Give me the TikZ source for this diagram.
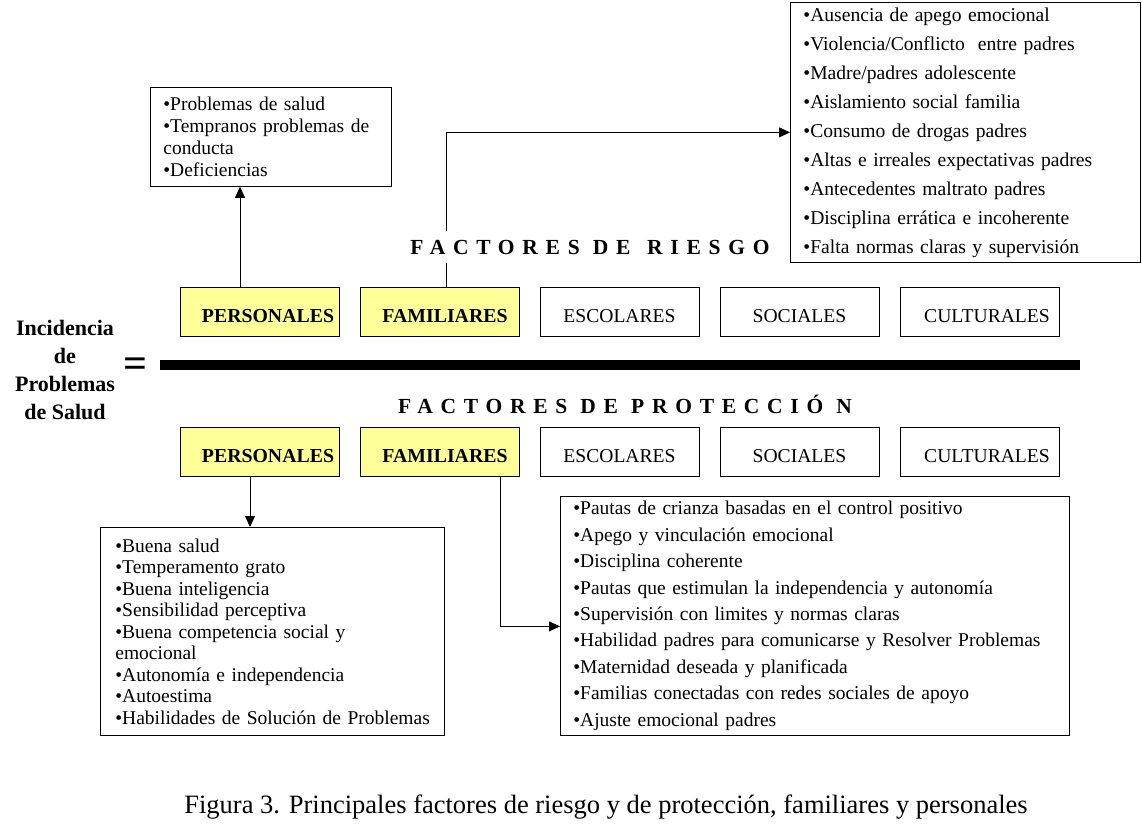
\documentclass[tikz,border=0pt]{standalone}
\usepackage{fontspec}
\setmainfont{Liberation Serif}
\newfontfamily\spacedfont[LetterSpace=36]{Liberation Serif}
\usetikzlibrary{arrows.meta,positioning}
\definecolor{paleyellow}{HTML}{FFFF99}

\begin{document}
\begin{tikzpicture}[x=1pt, y=-1pt, >={Triangle[length=11pt,width=10pt]},
  catbox/.style={draw, line width=0.8pt, minimum width=159pt, minimum height=49pt,
    inner sep=0pt, text height=21pt, text depth=0pt, font=\fontsize{19.6}{22}\selectfont},
  catyellow/.style={catbox, fill=paleyellow, font=\fontsize{19.8}{22}\selectfont\bfseries},
  listbox/.style={draw, line width=0.8pt, anchor=north west, align=left, inner ysep=0pt},
  title/.style={fill=white, inner xsep=4pt, inner ysep=9pt,
    font=\fontsize{21.5}{24}\selectfont\spacedfont\bfseries},
  link/.style={->, line width=0.8pt}]
  \useasboundingbox (0,0) rectangle (1142,832);

  % left side of the equation
  \node[align=center, font=\fontsize{22}{28}\selectfont\bfseries] (incid) at (65,370)
    {Incidencia\\de\\Problemas\\de Salud};
  \node[font=\fontsize{42}{42}\selectfont\bfseries] (eq) at (135,368) {=};
  \coordinate (barL) at (160,365);
  \coordinate (barR) at (1080,365);
  \draw[line width=10pt] (barL) -- (barR);

  % risk factors (above the bar)
  \node[catyellow] (perR) at (259.5,311.5) {\hspace*{17pt}PERSONALES};
  \node[catyellow] (famR) at (439.5,311.5) {\hspace*{11pt}FAMILIARES};
  \node[catbox] (escR) at (619.5,311.5) {ESCOLARES};
  \node[catbox] (socR) at (799.5,311.5) {SOCIALES};
  \node[catbox] (culR) at (979.5,311.5) {\hspace*{15pt}CULTURALES};

  \node[listbox, text width=215pt, inner xsep=13pt, minimum height=99pt,
    font=\fontsize{19.5}{22}\selectfont] (persRlist) at (150,87)
    {•Problemas de salud\\•Tempranos problemas de\\conducta\\•Deficiencias};
  \node[listbox, text width=324pt, inner xsep=13pt, minimum height=260pt,
    font=\fontsize{19.6}{29}\selectfont] (famRlist) at (790,2)
    {•Ausencia de apego emocional\\
     •Violencia/Conflicto\ \ entre padres\\
     •Madre/padres adolescente\\
     •Aislamiento social familia\\
     •Consumo de drogas padres\\
     •Altas e irreales expectativas padres\\
     •Antecedentes maltrato padres\\
     •Disciplina errática e incoherente\\
     •Falta normas claras y supervisión};

  \draw[link] ([xshift=-19.5pt]perR.north) -- ([xshift=-19.5pt]perR.north |- persRlist.south);
  \draw[link] ([xshift=6.5pt]famR.north) |- (famRlist.west);
  \node[title] (riskT) at (590,247) {FACTORES DE\, RIESGO};

  % protective factors (below the bar)
  \node[title] (protT) at (625,404) {FACTORES DE PROTECCIÓ N};
  \node[catyellow] (perP) at (259.5,451.5) {\hspace*{17pt}PERSONALES};
  \node[catyellow] (famP) at (439.5,451.5) {\hspace*{11pt}FAMILIARES};
  \node[catbox] (escP) at (619.5,451.5) {ESCOLARES};
  \node[catbox] (socP) at (799.5,451.5) {SOCIALES};
  \node[catbox] (culP) at (979.5,451.5) {\hspace*{15pt}CULTURALES};

  \node[listbox, text width=314pt, inner xsep=15pt, minimum height=208pt,
    font=\fontsize{19.5}{21.5}\selectfont] (persPlist) at (100,527)
    {•Buena salud\\
     •Temperamento grato\\
     •Buena inteligencia\\
     •Sensibilidad perceptiva\\
     •Buena competencia social y\\emocional\\
     •Autonomía e independencia\\
     •Autoestima\\
     \mbox{•Habilidades de Solución de Problemas}};
  \node[listbox, text width=483pt, inner xsep=13pt, minimum height=239pt,
    font=\fontsize{19.5}{26.4}\selectfont] (famPlist) at (560,496)
    {•Pautas de crianza basadas en el control positivo\\
     •Apego y vinculación emocional\\
     •Disciplina coherente\\
     •Pautas que estimulan la independencia y autonomía\\
     •Supervisión con limites y normas claras\\
     •Habilidad padres para comunicarse y Resolver Problemas\\
     •Maternidad deseada y planificada\\
     •Familias conectadas con redes sociales de apoyo\\
     •Ajuste emocional padres};

  \draw[link] ([xshift=-9.5pt]perP.south) -- ([xshift=-9.5pt]perP.south |- persPlist.north);
  \draw[link] ([xshift=60.5pt]famP.south) |- ([yshift=-10.5pt]famPlist.west);

  % caption
  \node[font=\fontsize{26.5}{30}\selectfont] (caption) at (606,807)
    {Figura 3. Principales factores de riesgo y de protección, familiares y personales};
\end{tikzpicture}
\end{document}
